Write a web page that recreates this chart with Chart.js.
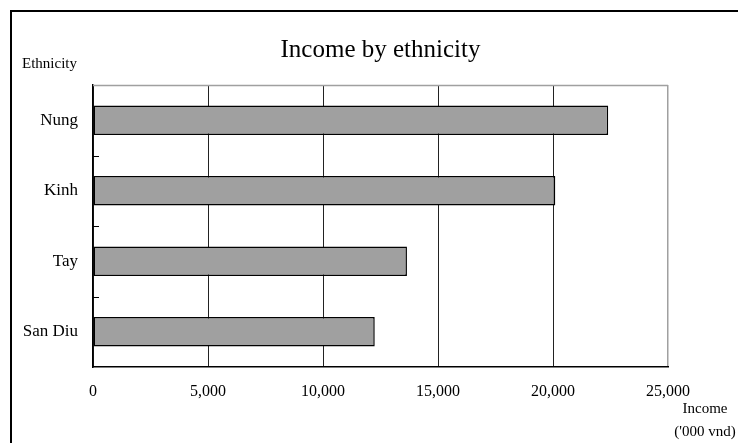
<!DOCTYPE html>
<html>
<head>
<meta charset="utf-8">
<script src="https://cdn.jsdelivr.net/npm/chart.js@4.4.1/dist/chart.umd.min.js"></script>
<style>
  html, body { margin: 0; padding: 0; background: #fff; }
  #wrap { position: relative; width: 738px; height: 443px; overflow: hidden; }
  #frame { position: absolute; left: 10px; top: 10px; width: 800px; height: 500px;
           border-left: 2px solid #000; border-top: 2px solid #000; pointer-events: none; }
  canvas { position: absolute; left: 0; top: 0; }
</style>
</head>
<body>
<div id="wrap">
  <canvas id="c" width="738" height="443"></canvas>
  <div id="frame"></div>
</div>
<script>
const categories = ['Nung', 'Kinh', 'Tay', 'San Diu'];
const income = [22400, 20100, 13650, 12250];
const xTicks = [0, 5000, 10000, 15000, 20000, 25000];
const chartTitle = 'Income by ethnicity';
const yAxisLabel = 'Ethnicity';
const xAxisLabel = ['Income', "('000 vnd)"];

const SERIF = "'Liberation Serif', 'Times New Roman', serif";
Chart.defaults.font.family = SERIF;
Chart.defaults.color = '#000';

const extras = {
  id: 'extras',
  beforeDatasetsDraw(chart) {
    const { ctx, chartArea: a, scales } = chart;
    ctx.save();
    // top border (gray)
    ctx.strokeStyle = '#a0a0a0';
    ctx.lineWidth = 1.5;
    ctx.beginPath();
    ctx.moveTo(a.left, a.top + 0.5);
    ctx.lineTo(a.right, a.top + 0.5);
    ctx.stroke();
    // inner tick marks on category boundaries
    const y = scales.y;
    ctx.strokeStyle = '#000';
    ctx.lineWidth = 1;
    for (let i = 1; i < categories.length; i++) {
      const py = Math.round((y.getPixelForValue(i - 1) + y.getPixelForValue(i)) / 2) + 0.5;
      ctx.beginPath();
      ctx.moveTo(a.left, py);
      ctx.lineTo(a.left + 6, py);
      ctx.stroke();
    }
    ctx.restore();
  },
  afterDraw(chart) {
    const { ctx } = chart;
    ctx.save();
    ctx.fillStyle = '#000';
    ctx.font = '15px ' + SERIF;
    ctx.textAlign = 'left';
    ctx.textBaseline = 'alphabetic';
    ctx.fillText(yAxisLabel, 22, 68);
    ctx.textAlign = 'center';
    ctx.fillText(xAxisLabel[0], 705, 413);
    ctx.fillText(xAxisLabel[1], 705, 436);
    ctx.restore();
  }
};

new Chart(document.getElementById('c'), {
  type: 'bar',
  data: {
    labels: categories,
    datasets: [{
      data: income,
      backgroundColor: '#a0a0a0',
      borderColor: '#000',
      borderWidth: 1.5,
      borderSkipped: false,
      categoryPercentage: 1,
      barPercentage: 0.42
    }]
  },
  options: {
    indexAxis: 'y',
    responsive: false,
    animation: false,
    layout: { padding: { left: 24, right: 70, top: 0, bottom: 0 } },
    plugins: {
      legend: { display: false },
      tooltip: { enabled: false },
      title: {
        display: true,
        fullSize: false,
        text: chartTitle,
        color: '#000',
        font: { size: 25, weight: 'normal', family: SERIF, lineHeight: 1.2 },
        padding: { top: 35, bottom: 20 }
      }
    },
    scales: {
      x: {
        min: 0,
        max: 25000,
        afterBuildTicks(scale) { scale.ticks = xTicks.map(v => ({ value: v })); },
        afterFit(scale) { scale.height = 76; },
        grid: {
          color: (c) => (c.tick && c.tick.value === 25000) ? '#a0a0a0' : '#222',
          lineWidth: (c) => (c.tick && c.tick.value === 25000) ? 1.5 : 1,
          drawTicks: false
        },
        border: { display: true, color: '#000', width: 1.5 },
        ticks: {
          padding: 15,
          maxRotation: 0,
          font: { size: 16, family: SERIF },
          color: '#000',
          callback: (v) => Number(v).toLocaleString('en-US')
        }
      },
      y: {
        afterFit(scale) { scale.width = 69; },
        grid: { display: false, drawTicks: false },
        border: { display: true, color: '#000', width: 1.5 },
        ticks: {
          padding: 15,
          font: { size: 17, family: SERIF },
          color: '#000'
        }
      }
    }
  },
  plugins: [extras]
});
</script>
</body>
</html>
